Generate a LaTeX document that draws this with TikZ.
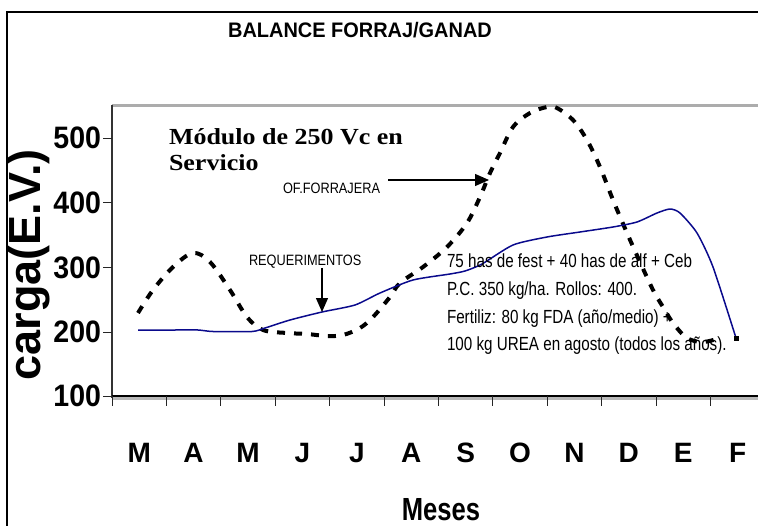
\documentclass[tikz,border=0pt]{standalone}
\usepackage{fontspec}
\usetikzlibrary{arrows.meta}
\setmainfont{Liberation Sans}
\newfontfamily\titlefont[FakeStretch=0.95]{Liberation Sans}
\newfontfamily\tickfont[FakeStretch=0.92]{Liberation Sans}
\newfontfamily\monthfont{Liberation Sans}
\newfontfamily\mesesfont[FakeStretch=0.8]{Liberation Sans}
\newfontfamily\smallcond[FakeStretch=0.85]{Liberation Sans}
\newfontfamily\annfont[FakeStretch=0.8]{Liberation Sans}
\newfontfamily\modfont[FakeStretch=1.13]{Liberation Serif}
\definecolor{reqblue}{RGB}{10,10,140}
\begin{document}
\begin{tikzpicture}[x=1bp,y=-1bp,
  lbl/.style={inner sep=0pt, outer sep=0pt},
  reqline/.style={draw=reqblue, line width=1.5bp, line join=round},
  ofeline/.style={draw=black, line width=4bp, dash pattern=on 8bp off 9bp},
  pointer/.style={-{Triangle[length=14bp,width=12bp]}, line width=1.3bp},
  tickline/.style={line width=1bp, black!85},
  ticklbl/.style={lbl, anchor=east, font=\tickfont\bfseries\fontsize{31bp}{33bp}\selectfont},
  monthlbl/.style={lbl, anchor=base, font=\monthfont\bfseries\fontsize{28bp}{30bp}\selectfont}]
\useasboundingbox (0,0) rectangle (758,526);
% outer frame
\draw[line width=1.2bp] (7,526) -- (7,12) -- (758,12);
% title
\node[lbl, anchor=base, font=\titlefont\bfseries\fontsize{21bp}{24bp}\selectfont] (title) at (360,38) {BALANCE FORRAJ/GANAD};
% plot frame
\draw[gray!65, line width=3bp] (112,106) -- (758,106);
\draw[gray!55, line width=3bp] (112,398) -- (758,398);
\draw[black!80, line width=1.4bp] (112,105) -- (112,398);
\draw[black, line width=1.1bp] (112,396) -- (758,396);
% y ticks and labels
\foreach \v/\yy in {500/138.3,400/202.9,300/267.4,200/332,100/396}{
  \draw[tickline] (103,\yy) -- (112,\yy);
  \node[ticklbl] (y\v) at (101,\yy) {\v};
}
% x ticks
\foreach \k in {0,...,11}{
  \draw[tickline] ({112+54.4*\k},396) -- ({112+54.4*\k},406);
}
% month labels
\foreach \m [count=\i from 0] in {M,A,M,J,J,A,S,O,N,D,E,F}{
  \node[monthlbl] (mon\i) at ({139.2+54.4*\i},462) {\m};
}
% axis titles
\node[lbl, rotate=90, font=\bfseries\fontsize{45bp}{47bp}\selectfont] (ylab) at (29,265) {carga(E.V.)};
\node[lbl, anchor=base, font=\mesesfont\bfseries\fontsize{32bp}{34bp}\selectfont] (xlab) at (441,520) {Meses};
% module text
\node[lbl, anchor=base west, align=left, font=\modfont\bfseries\fontsize{23bp}{26bp}\selectfont] (modulo) at (169,171) {Módulo de 250 Vc en\\Servicio};
% oferta forrajera (dashed)
\draw[ofeline] plot[smooth, tension=0.55] coordinates {
 (138,313) (153,290) (173,267) (193,253) (210,262) (230,290) (247,317)
 (263,330) (287,333) (307,334) (327,336) (343,335) (360,328) (373,317)
 (390,297) (400,283) (423,267) (447,247) (467,223) (480,197) (490,173)
 (500,153) (513,127) (530,113) (547,107) (557,108) (573,120) (587,140)
 (600,167) (613,200) (627,233) (640,262) (653,290) (663,307) (673,323)
 (687,338) (703,342) (720,338)};
% requerimientos (blue)
\draw[reqline] plot[smooth, tension=0.4] coordinates {
 (138,330) (175,330) (198,330) (213,331.5) (252,331.5) (265,328) (290,320)
 (322,312) (355,305) (380,293) (413,280) (450,274) (465,271) (482,264)
 (513,245) (547,237) (580,232) (613,227) (637,222) (657,213) (670,209)
 (680,213) (697,233) (713,267) (736,338)};
\node[fill=black, minimum size=5bp, inner sep=0pt] (endmark) at (736,338) {};
% labels with arrows
\node[lbl, anchor=base west, font=\smallcond\fontsize{15bp}{17bp}\selectfont] (oflab) at (283,194) {OF.FORRAJERA};
\coordinate (ofstart) at (388,180);
\coordinate (ofend) at (489,180);
\draw[pointer] (ofstart) -- (ofend);
\node[lbl, anchor=base west, font=\smallcond\fontsize{15bp}{17bp}\selectfont] (reqlab) at (249,266) {REQUERIMENTOS};
\coordinate (reqstart) at (322,268);
\coordinate (reqend) at (322,312);
\draw[pointer] (reqstart) -- (reqend);
% annotation
\node[lbl, anchor=base west, align=left, font=\annfont\fontsize{19bp}{27.5bp}\selectfont] (note) at (447,350.5)
 {75 has de fest + 40 has de alf + Ceb\\P.C. 350 kg/ha. Rollos: 400.\\Fertiliz: 80 kg FDA (año/medio) +\\100 kg UREA en agosto (todos los años).};
\end{tikzpicture}
\end{document}
